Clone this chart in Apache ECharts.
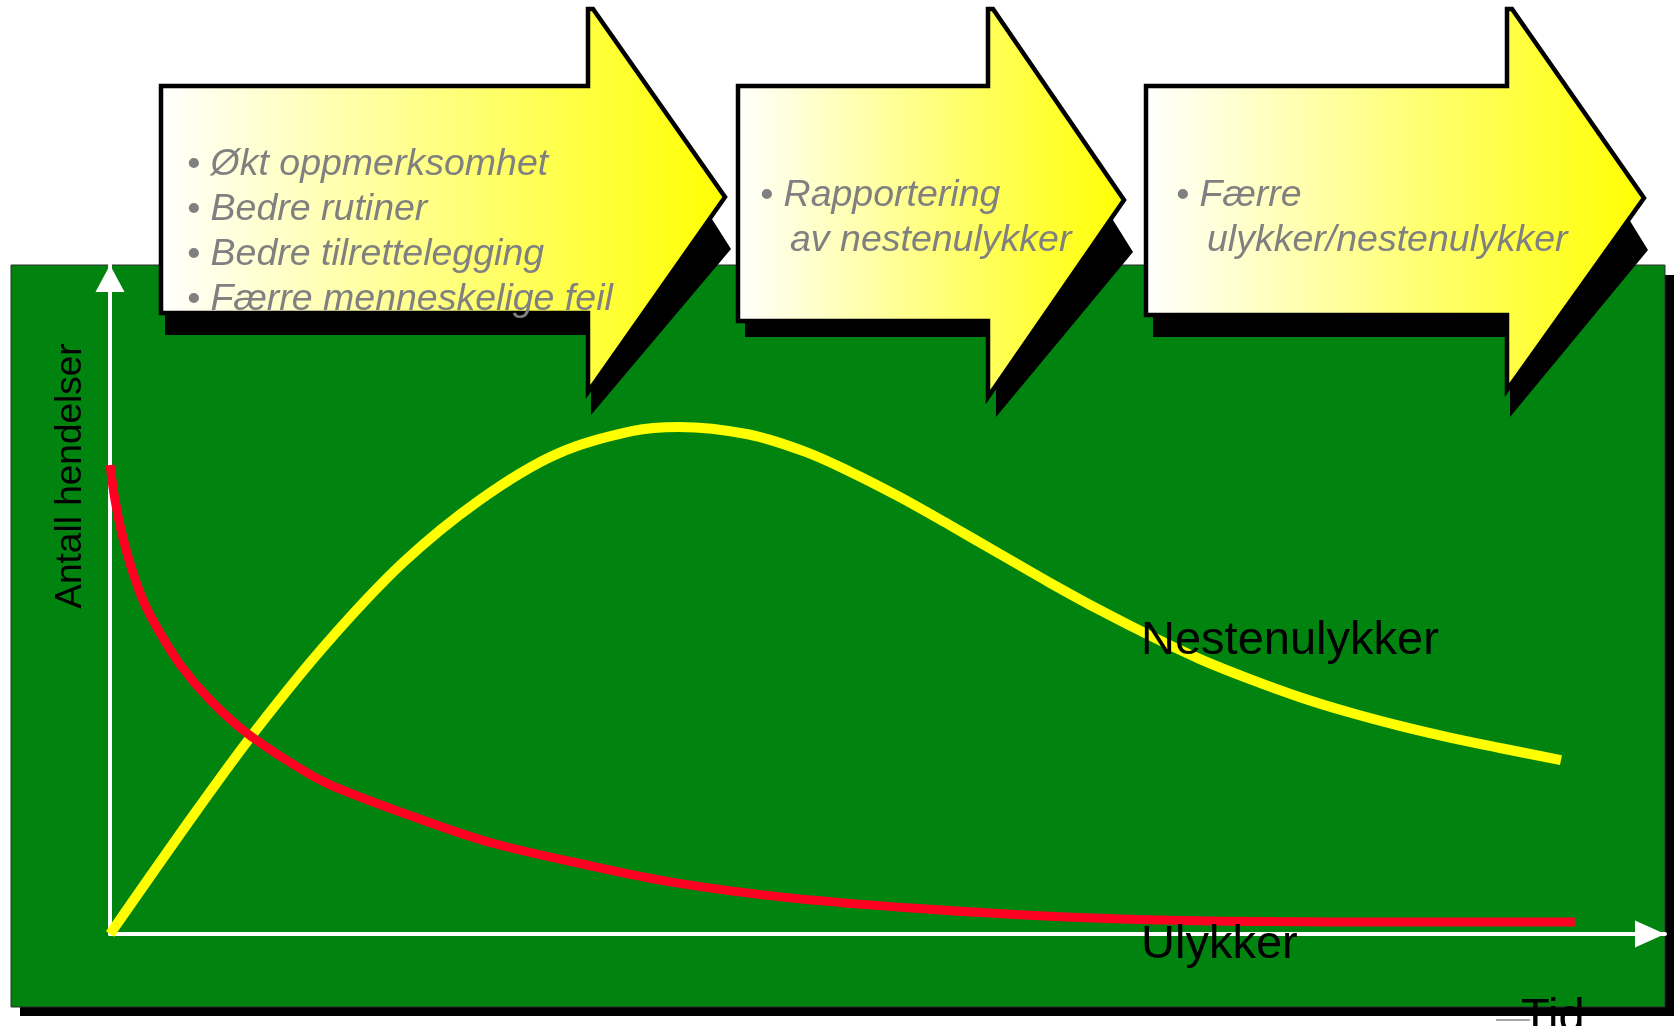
<!DOCTYPE html>
<html>
<head>
<meta charset="utf-8">
<script src="https://cdn.jsdelivr.net/npm/echarts@6/dist/echarts.min.js"></script>
<style>
html,body{margin:0;padding:0;background:#ffffff;}
#chart{width:1676px;height:1026px;}
</style>
</head>
<body>
<div id="chart"></div>
<script>
// ---- data (time axis 0..100, count axis 0..100) ----
const nearMissX = [0, 5.59, 9.39, 13.95, 18.84, 23.79, 28.68, 33.63, 36.59, 41.03, 44.69, 47.59, 50.80, 54.02, 57.23, 60.45, 63.67, 66.88, 70.10, 73.31, 76.53, 79.74, 82.96, 86.17, 89.39, 93.31];
const nearMissY = [0, 18.5, 30.5, 43.5, 55.5, 64.9, 71.7, 75.2, 75.8, 74.7, 72.1, 69.1, 65.3, 61.1, 56.8, 52.5, 48.4, 44.6, 41.1, 38.1, 35.4, 33.1, 31.1, 29.35, 27.8, 26.0];
const accidentX = [0, 0.32, 0.75, 1.35, 2.12, 3.22, 4.63, 6.43, 8.81, 12.03, 14.34, 20.26, 24.57, 30.29, 36.01, 43.73, 52.7, 60.1, 67.5, 74.9, 82.3, 94.2];
const accidentY = [70.1, 64.9, 60.0, 54.9, 49.9, 45.0, 39.9, 35.0, 30.0, 25.0, 22.1, 16.9, 13.6, 10.5, 7.8, 5.4, 3.7, 2.7, 2.1, 1.85, 1.8, 1.8];
const seriesNames = ['Nestenulykker', 'Ulykker'];
const axisTitles = ['Antall hendelser', 'Tid'];
const arrowTexts = [
  ['• Økt oppmerksomhet', '• Bedre rutiner', '• Bedre tilrettelegging', '• Færre menneskelige feil'],
  ['• Rapportering', 'av nestenulykker'],
  ['• Færre', 'ulykker/nestenulykker']
];

const zip = (xs, ys) => xs.map((x, i) => [x, ys[i]]);

const chart = echarts.init(document.getElementById('chart'), null, {renderer: 'canvas'});

function arrowGradient() {
  return new echarts.graphic.LinearGradient(0, 0, 1, 0, [
    {offset: 0, color: '#ffffff'},
    {offset: 1, color: '#ffff00'}
  ]);
}

// block arrow outlines (decoration)
const arrows = [
  {body: [161, 86, 588, 313], headTop: 9, tip: [725, 197], headBottom: 392,
   shadow: [[165, 100], [592, 100], [592, 30], [731, 249], [591, 415], [591, 335], [165, 335]]},
  {body: [738, 86, 988, 321], headTop: 9, tip: [1124, 200], headBottom: 397,
   shadow: [[745, 100], [994, 100], [994, 30], [1133, 252], [996, 417], [996, 337], [745, 337]]},
  {body: [1146, 86, 1507, 315], headTop: 9, tip: [1644, 198], headBottom: 390,
   shadow: [[1153, 100], [1512, 100], [1512, 30], [1648, 250], [1510, 417], [1510, 337], [1153, 337]]}
];

const graphics = [];
// green panel + shadow
graphics.push({type: 'rect', z: -20, silent: true, shape: {x: 20, y: 275, width: 1654, height: 741}, style: {fill: '#000000'}});
graphics.push({type: 'rect', z: -10, silent: true, shape: {x: 11, y: 265, width: 1654, height: 742}, style: {fill: '#00840f', stroke: '#2d2d2d', lineWidth: 1}});

arrows.forEach(a => {
  const [x0, y0, hx, y1] = a.body;
  graphics.push({type: 'polygon', z: 50, silent: true, shape: {points: a.shadow}, style: {fill: '#000000'}});
  graphics.push({
    type: 'polygon', z: 51, silent: true,
    shape: {points: [[x0, y0], [hx, y0], [hx, a.headTop], [hx + 5, a.headTop], a.tip, [hx, a.headBottom], [hx, y1], [x0, y1]]},
    style: {fill: arrowGradient(), stroke: '#000000', lineWidth: 4.5, lineJoin: 'miter'}
  });
});

const arrowFont = {fontSize: 37.5, fontStyle: 'italic', fontFamily: '"Liberation Sans", Arial, Helvetica, sans-serif', fill: '#808080'};
const textPos = [
  [[187, 165], [187, 210], [187, 255], [187, 300]],
  [[760, 196], [790, 241]],
  [[1176, 196], [1207, 241]]
];
arrowTexts.forEach((lines, i) => {
  lines.forEach((t, j) => {
    graphics.push({type: 'text', z: 60, silent: true, x: textPos[i][j][0], y: textPos[i][j][1],
      style: Object.assign({text: t, align: 'left', verticalAlign: 'middle'}, arrowFont)});
  });
});

const labelFont = {fontSize: 47, fontFamily: '"Liberation Sans", Arial, Helvetica, sans-serif', fill: '#000000'};
graphics.push({type: 'text', z: 60, silent: true, x: 1141, y: 641, style: Object.assign({text: seriesNames[0], align: 'left', verticalAlign: 'middle'}, labelFont)});
graphics.push({type: 'text', z: 60, silent: true, x: 1141, y: 945, style: Object.assign({text: seriesNames[1], align: 'left', verticalAlign: 'middle'}, labelFont)});
graphics.push({type: 'text', z: 60, silent: true, x: 1521, y: 1018, style: Object.assign({text: axisTitles[1], align: 'left', verticalAlign: 'middle'}, labelFont)});
graphics.push({type: 'line', z: 60, silent: true, shape: {x1: 1496, y1: 1020, x2: 1530, y2: 1020}, style: {stroke: '#8a8a8a', lineWidth: 1.5}});
graphics.push({type: 'text', z: 60, silent: true, x: 71, y: 476, rotation: Math.PI / 2,
  style: {text: axisTitles[0], align: 'center', verticalAlign: 'middle', fontSize: 37, fontFamily: '"Liberation Sans", Arial, Helvetica, sans-serif', fill: '#000000'}});

chart.setOption({
  backgroundColor: '#ffffff',
  animation: false,
  grid: {left: 110, top: 265, right: 11, bottom: 92, containLabel: false},
  xAxis: {
    type: 'value', min: 0, max: 100,
    axisLine: {show: true, onZero: false, lineStyle: {color: '#ffffff', width: 4}, symbol: ['none', 'triangle'], symbolSize: [27, 30], symbolOffset: [0, -15]},
    axisTick: {show: false}, axisLabel: {show: false}, splitLine: {show: false}
  },
  yAxis: {
    type: 'value', min: 0, max: 100,
    axisLine: {show: true, onZero: false, lineStyle: {color: '#ffffff', width: 4}, symbol: ['none', 'triangle'], symbolSize: [29, 27], symbolOffset: [0, -13.5]},
    axisTick: {show: false}, axisLabel: {show: false}, splitLine: {show: false}
  },
  series: [
    {name: seriesNames[0], type: 'line', data: zip(nearMissX, nearMissY), smooth: 0.35, symbol: 'none', clip: false, z: 3,
     lineStyle: {color: '#ffff00', width: 10, cap: 'butt'}},
    {name: seriesNames[1], type: 'line', data: zip(accidentX, accidentY), smooth: 0.35, symbol: 'none', clip: false, z: 4,
     lineStyle: {color: '#ff0022', width: 9, cap: 'butt'}}
  ],
  graphic: {elements: graphics}
});
</script>
</body>
</html>
